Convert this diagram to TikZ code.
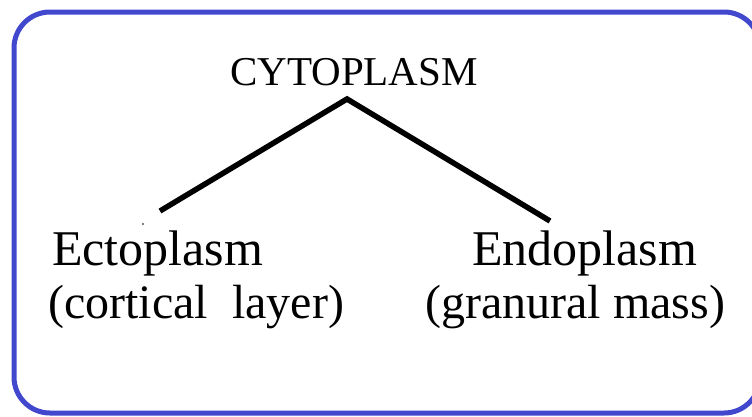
\documentclass[tikz,border=0pt]{standalone}
\usepackage{fontspec}
\setmainfont{Liberation Serif}
\definecolor{frameblue}{RGB}{66,72,206}
\begin{document}
\begin{tikzpicture}[x=1pt,y=-1pt,
  label/.style={inner sep=0pt,anchor=base west,font=\fontsize{48}{53}\selectfont},
  biglabel/.style={label,font=\fontsize{50}{55}\selectfont},
  branch/.style={line width=5.5pt,black,line join=miter}]
\useasboundingbox (0,0) rectangle (752,416);
\clip (0,0) rectangle (752,416);
\fill[white] (0,0) rectangle (752,416);
% outer frame
\draw[frameblue,line width=5pt,rounded corners=36pt] (14,12) rectangle (760,413);
% title
\node[inner sep=0pt,anchor=base,font=\fontsize{41}{46}\selectfont] (cyto) at (354,85) {CYTOPLASM};
% branch labels
\node[biglabel] (ecto)  at (52,265) {Ectoplasm};
\node[label] (ectob) at (48,318) {(cortical\ \ layer)};
\node[biglabel] (endo)  at (472,265) {Endoplasm};
\node[label] (endob) at (425,318) {(granural mass)};
% branches
\coordinate (apex) at (347,99);
\coordinate (ectotop) at (160,211);
\coordinate (endotop) at (550,221);
\draw[branch] (ectotop) -- (apex) -- (endotop);
\fill (143,224) circle (0.9pt);
\end{tikzpicture}
\end{document}
